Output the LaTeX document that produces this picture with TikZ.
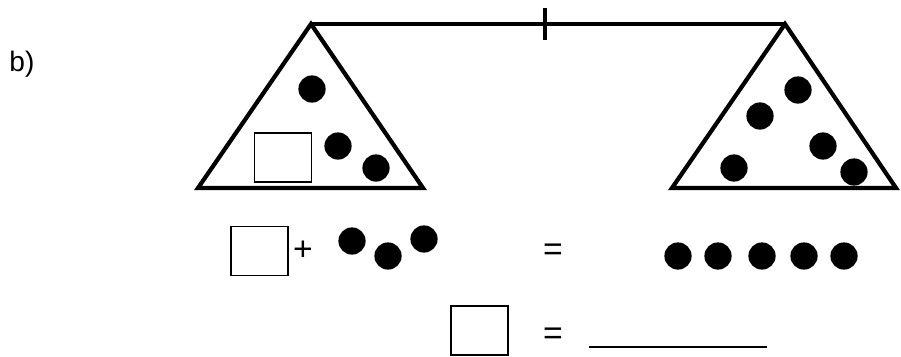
\documentclass[tikz,border=0pt]{standalone}
\usepackage{fontspec}
\setmainfont{Liberation Sans}
\usepackage{tikz}

\begin{document}
\begin{tikzpicture}[x=0.025cm,y=-0.025cm,
    dot/.style={circle,fill=black,inner sep=0pt,minimum size=0.68cm},
    box/.style={draw,line width=1.1pt,inner sep=0pt,minimum width=1.42cm,minimum height=1.22cm},
    sign/.style={font=\fontsize{24}{28}\selectfont,inner sep=0pt},
    pan/.style={line width=3pt,line join=miter}]
    \useasboundingbox (0,0) rectangle (901,356);
    \node[font=\fontsize{20}{24}\selectfont] (lab) at (22,64) {b)};
    % scale
    \coordinate (apexL) at (311,24);
    \coordinate (apexR) at (785,24);
    \draw[pan] (apexL) -- (apexR);
    \draw[line width=3pt] (545,8) -- (545,40);
    \draw[pan] (apexL) -- (198,188) -- (423,188) -- cycle;
    \draw[pan] (apexR) -- (672,188) -- (896,188) -- cycle;
    % left pan
    \node[dot] (l1) at (312,89) {};
    \node[dot] (l2) at (338,146) {};
    \node[dot] (l3) at (376,168) {};
    \node[box] (lbox) at (283,157.5) {};
    % right pan
    \node[dot] (r1) at (798,90) {};
    \node[dot] (r2) at (760,116) {};
    \node[dot] (r3) at (734,168) {};
    \node[dot] (r4) at (823,146) {};
    \node[dot] (r5) at (854,172) {};
    % first line
    \node[box] (b1) at (259.5,251) {};
    \node[sign] (plus) at (303,251) {+};
    \node[dot] (d1) at (352,241) {};
    \node[dot] (d2) at (388,256) {};
    \node[dot] (d3) at (424,239) {};
    \node[sign] (eq1) at (553,252) {=};
    \foreach \x [count=\i] in {678,718,762,804,844}
        \node[dot] (e\i) at (\x,256) {};
    % second line
    \node[box] (b2) at (479.5,330.5) {};
    \node[sign] (eq2) at (553,336) {=};
    \coordinate (ans) at (589,347);
    \draw[line width=1.1pt] (ans) -- ++(178,0);
\end{tikzpicture}
\end{document}
